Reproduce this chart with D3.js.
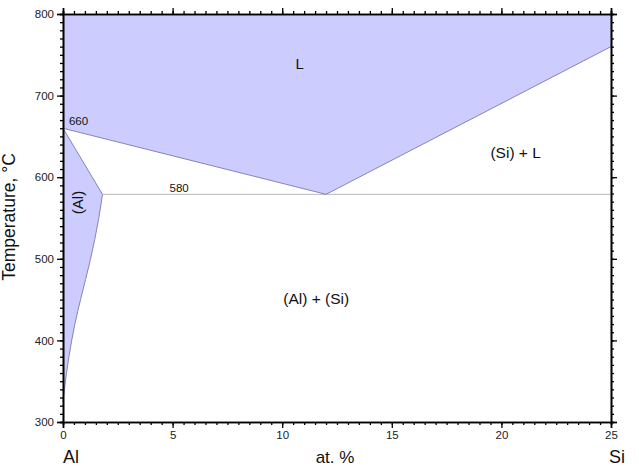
<!DOCTYPE html>
<html><head><meta charset="utf-8">
<script src="https://cdn.jsdelivr.net/npm/d3@7"></script>
<style>body{margin:0;background:#fff}svg{display:block}text{font-family:"Liberation Sans",Arial,sans-serif}</style>
</head><body><svg id="c" width="639" height="475"></svg>
<script>
// Data (at.% Si, Temperature °C)
const xTicks = [0,5,10,15,20,25];
const yTicks = [300,400,500,600,700,800];
const liquidusAl = [[0,660],[12.0,579]];
const liquidusSi = [[12.0,579],[25,760]];
const solidusAl = [[0,660],[1.8,579]];
const solvusAl = [[1.8,579],[1.62,548],[1.25,499],[0.80,450],[0.55,421],[0.27,380],[0.06,339],[0,325]];
const eutecticLine = [[1.8,579],[25,579]];
const labels = [
  {t:"L", x:10.8, y:732, s:15},
  {t:"660", x:0.27, y:664, s:11.5, a:"start"},
  {t:"580", x:5.3, y:582, s:11.5},
  {t:"(Si) + L", x:20.65, y:623, s:15.5},
  {t:"(Al) + (Si)", x:11.55, y:444, s:15.5}
];

const svg = d3.select("#c");
const m = {l:63, r:611, t:14, b:422};
const x = d3.scaleLinear().domain([0,25]).range([m.l,m.r]);
const y = d3.scaleLinear().domain([300,800]).range([m.b,m.t]);
const line = d3.line().x(d=>x(d[0])).y(d=>y(d[1]));
const curve = d3.line().x(d=>x(d[0])).y(d=>y(d[1])).curve(d3.curveMonotoneY);

const fill = "#ccccff", edge = "#8585b5";
// Liquid region
const liq = [[0,800],[0,660],...liquidusAl.slice(1),...liquidusSi.slice(1),[25,800]];
svg.append("path").attr("d", line(liq)+"Z").attr("fill", fill);
// (Al) region
const solvPath = curve(solvusAl);
svg.append("path").attr("d", line(solidusAl) + "L" + solvPath.slice(1) + "L"+x(0)+","+y(660)+"Z").attr("fill", fill);

// eutectic line
svg.append("path").attr("d", line(eutecticLine)).attr("stroke","#b8b8b8").attr("stroke-width",1).attr("fill","none");
// boundary lines
[liquidusAl, liquidusSi, solidusAl].forEach(d=>svg.append("path").attr("d", line(d)).attr("stroke",edge).attr("stroke-width",1).attr("fill","none"));
svg.append("path").attr("d", solvPath).attr("stroke",edge).attr("stroke-width",1).attr("fill","none");

// axes
const minorX = d3.range(0,25.01,0.5);
const minorY = d3.range(300,800.1,10);
function ax(gen, scale, minor, major, tr, lab) {
  const g1 = svg.append("g").attr("transform", tr).call(gen(scale).tickValues(minor).tickSize(3).tickFormat(""));
  const g2 = svg.append("g").attr("transform", tr).call(gen(scale).tickValues(major).tickSize(6).tickPadding(3).tickFormat(lab ? d3.format("d") : ""));
  [g1,g2].forEach(g=>{g.select(".domain").attr("stroke","#000").attr("stroke-width",1.6);
    g.selectAll(".tick line").attr("stroke","#000").attr("stroke-width",1.3);
    g.selectAll("text").attr("font-size",11.5).attr("fill","#222").style("font-family","Liberation Sans, Arial, sans-serif");});
}
ax(d3.axisBottom, x, minorX, xTicks, `translate(0,${m.b})`, true);
ax(d3.axisTop, x, minorX, xTicks, `translate(0,${m.t})`, false);
ax(d3.axisLeft, y, minorY, yTicks, `translate(${m.l},0)`, true);
ax(d3.axisRight, y, minorY, yTicks, `translate(${m.r},0)`, false);

// labels
labels.forEach(l=>svg.append("text").attr("x",x(l.x)).attr("y",y(l.y)).attr("font-size",l.s)
  .attr("text-anchor",l.a||"middle").attr("fill","#111").text(l.t));
svg.append("text").attr("transform",`translate(${x(0.68)},${y(569)}) rotate(-90)`).attr("font-size",15)
  .attr("text-anchor","middle").attr("dy","0.35em").attr("fill","#111").text("(Al)");
svg.append("text").attr("transform",`translate(15,217) rotate(-90)`).attr("font-size",17.5)
  .attr("text-anchor","middle").attr("fill","#111").text("Temperature, °C");
svg.append("text").attr("x",71).attr("y",463).attr("font-size",18).attr("text-anchor","middle").attr("fill","#111").text("Al");
svg.append("text").attr("x",335).attr("y",463).attr("font-size",17).attr("text-anchor","middle").attr("fill","#111").text("at. %");
svg.append("text").attr("x",617).attr("y",463).attr("font-size",18).attr("text-anchor","middle").attr("fill","#111").text("Si");
</script></body></html>
